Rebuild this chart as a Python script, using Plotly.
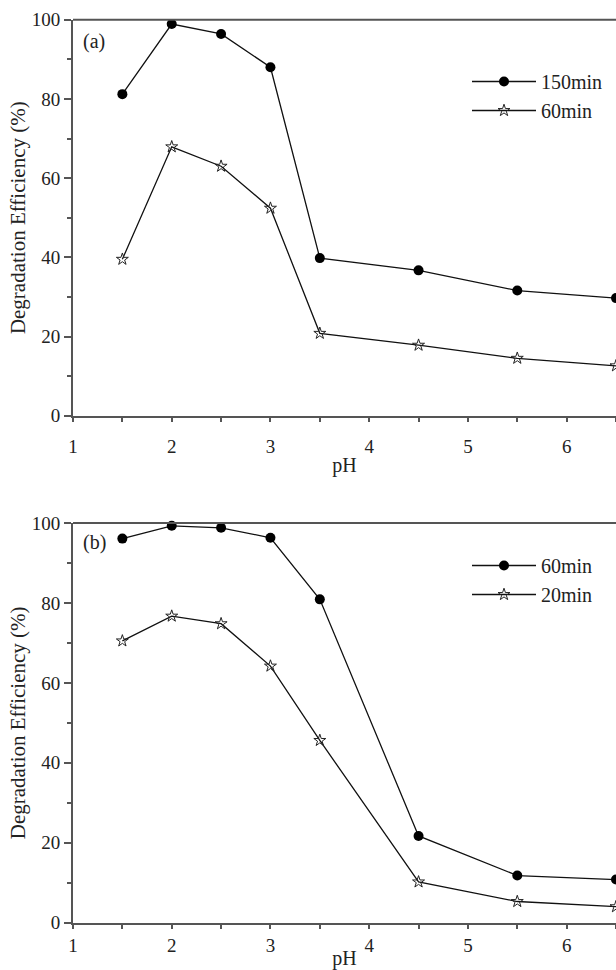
import plotly.graph_objects as go

ph = [1.5, 2.0, 2.5, 3.0, 3.5, 4.5, 5.5, 6.5]

# panel (a)
a_150min = [81.2, 98.9, 96.4, 88.0, 39.8, 36.7, 31.6, 29.7]
a_60min = [39.5, 67.9, 63.0, 52.4, 20.8, 17.8, 14.5, 12.6]

# panel (b)
b_60min = [96.1, 99.3, 98.8, 96.3, 80.9, 21.7, 11.8, 10.8]
b_20min = [70.5, 76.7, 74.8, 64.2, 45.6, 10.2, 5.3, 4.0]

y_ticks = [0, 20, 40, 60, 80, 100]
x_ticks = [1, 2, 3, 4, 5, 6]

FONT = "Liberation Serif, Times New Roman, serif"
W, H = 616, 970

fig = go.Figure()

line_style = dict(color="#111111", width=1.3)
circle = dict(symbol="circle", size=10, color="black", line=dict(width=0))
star = dict(symbol="star-open", size=9, color="#222222", line=dict(width=1.0))

fig.add_trace(go.Scatter(x=ph, y=a_150min, mode="lines+markers", name="150min",
                         line=line_style, marker=circle, xaxis="x", yaxis="y",
                         legend="legend", cliponaxis=False))
fig.add_trace(go.Scatter(x=ph, y=a_60min, mode="lines+markers", name="60min",
                         line=line_style, marker=star, xaxis="x", yaxis="y",
                         legend="legend", cliponaxis=False))
fig.add_trace(go.Scatter(x=ph, y=b_60min, mode="lines+markers", name="60min",
                         line=line_style, marker=circle, xaxis="x2", yaxis="y2",
                         legend="legend2", cliponaxis=False))
fig.add_trace(go.Scatter(x=ph, y=b_20min, mode="lines+markers", name="20min",
                         line=line_style, marker=star, xaxis="x2", yaxis="y2",
                         legend="legend2", cliponaxis=False))

axis_col = "#555555"
X_RANGE = [1, 6.5]


def xax_labels(anchor, lab_len):
    # labelled axis: major tick marks transparent (their length sets label distance)
    return dict(range=X_RANGE, tickvals=x_ticks, showline=True, linecolor=axis_col,
                linewidth=2, ticks="outside", ticklen=lab_len, tickwidth=1.5,
                tickcolor="rgba(0,0,0,0)", showgrid=False, zeroline=False, anchor=anchor,
                automargin=False,
                tickfont=dict(family=FONT, size=19, color="#222"),
                title=dict(text="pH", font=dict(family=FONT, size=20, color="#222"), standoff=2),
                minor=dict(dtick=0.5, tick0=1, ticks="outside", ticklen=4, tickwidth=1.5,
                           tickcolor=axis_col, showgrid=False),
                domain=[0, 1])


def xax_marks(anchor, over):
    # overlay axis that only draws the visible major tick marks
    return dict(range=X_RANGE, tickvals=x_ticks, overlaying=over, anchor=anchor,
                side="bottom", showline=False, ticks="outside", ticklen=7, tickwidth=1.5,
                tickcolor=axis_col, showticklabels=False, showgrid=False, zeroline=False,
                automargin=False)


def yax(anchor, dom):
    return dict(range=[0, 100], tickvals=y_ticks, showline=True, linecolor=axis_col,
                linewidth=2, ticks="outside", ticklen=7, tickwidth=1.5, tickcolor=axis_col,
                showgrid=False, zeroline=False, anchor=anchor, domain=dom, automargin=False,
                tickfont=dict(family=FONT, size=19, color="#222"),
                title=dict(text="Degradation Efficiency (%)",
                           font=dict(family=FONT, size=21, color="#222"), standoff=0),
                minor=dict(dtick=10, tick0=0, ticks="outside", ticklen=4, tickwidth=1.5,
                           tickcolor=axis_col, showgrid=False))


top_dom = [1 - 415.7 / H, 1 - 19.7 / H]
bot_dom = [1 - 922.7 / H, 1 - 523.0 / H]

leg_common = dict(font=dict(family=FONT, size=20, color="#222"), bgcolor="rgba(0,0,0,0)",
                  xanchor="left", yanchor="top", itemwidth=64, tracegroupgap=0)

fig.update_layout(
    width=W, height=H,
    margin=dict(l=73, r=0, t=0, b=0, autoexpand=False),
    paper_bgcolor="white", plot_bgcolor="white",
    xaxis=xax_labels("y", 12), yaxis=yax("x", top_dom),
    xaxis2=xax_labels("y2", 4), yaxis2=yax("x2", bot_dom),
    xaxis3=xax_marks("y", "x"),
    xaxis4=xax_marks("y2", "x2"),
    legend=dict(x=0.7256, y=1 - 62 / H, **leg_common),
    legend2=dict(x=0.7256, y=1 - 546 / H, **leg_common),
    showlegend=True,
    shapes=[
        dict(type="line", xref="paper", yref="paper", x0=0, x1=1,
             y0=top_dom[1], y1=top_dom[1], line=dict(color=axis_col, width=2)),
        dict(type="line", xref="paper", yref="paper", x0=0, x1=1,
             y0=bot_dom[1], y1=bot_dom[1], line=dict(color=axis_col, width=2)),
    ],
    annotations=[
        dict(text="(a)", x=1.08, y=94.6, xref="x", yref="y", xanchor="left",
             yanchor="middle", showarrow=False, font=dict(family=FONT, size=20, color="#222")),
        dict(text="(b)", x=1.08, y=95.0, xref="x2", yref="y2", xanchor="left",
             yanchor="middle", showarrow=False, font=dict(family=FONT, size=20, color="#222")),
    ],
)

fig.write_html(
    "out.html",
    config={"displayModeBar": False},
    post_script="document.body.style.margin='0';document.body.style.overflow='hidden';",
)
